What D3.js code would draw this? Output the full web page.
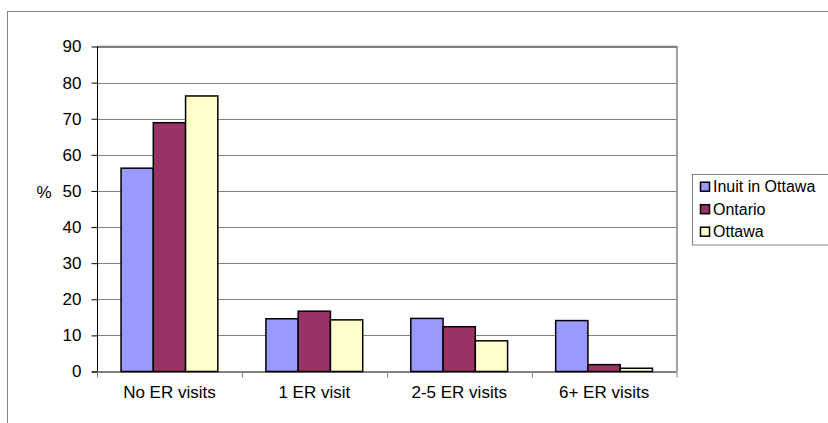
<!DOCTYPE html>
<html><head><meta charset="utf-8">
<script src="https://cdn.jsdelivr.net/npm/d3@7"></script>
<style>body{margin:0;background:#fff}svg{display:block;font-family:Arial,"Liberation Sans",sans-serif}</style>
</head><body><svg id="c" width="828" height="423"></svg>
<script>
const categories = ["No ER visits", "1 ER visit", "2-5 ER visits", "6+ ER visits"];
const seriesNames = ["Inuit in Ottawa", "Ontario", "Ottawa"];
const inuitValues = [56.3, 14.6, 14.7, 14.1];
const ontarioValues = [68.9, 16.7, 12.4, 1.9];
const ottawaValues = [76.3, 14.3, 8.5, 0.9];
const yTicks = [0, 10, 20, 30, 40, 50, 60, 70, 80, 90];
const colors = ["#9999FF", "#993366", "#FFFFCC"];
const seriesValues = [inuitValues, ontarioValues, ottawaValues];

const svg = d3.select("#c");
const L = 97, R = 676.5, T = 46.5, B = 371.5;

// outer chart border
svg.append("rect").attr("x", 7.5).attr("y", 11.5).attr("width", 900).attr("height", 500)
  .attr("fill", "none").attr("stroke", "#808080").attr("stroke-width", 1);

const x = d3.scaleBand().domain(categories).range([L, R]).paddingInner(0).paddingOuter(0);
const inner = d3.scaleBand().domain(seriesNames).range([0, x.bandwidth()]).paddingInner(0).paddingOuter(0.745);
const y = d3.scaleLinear().domain([0, 90]).range([B, T]);

// gridlines
svg.append("g").selectAll("line").data(yTicks.filter(d => d > 0)).join("line")
  .attr("x1", L).attr("x2", R).attr("y1", d => Math.round(y(d)) + 0.5).attr("y2", d => Math.round(y(d)) + 0.5)
  .attr("stroke", "#808080").attr("stroke-width", 1);
// plot border right
svg.append("line").attr("x1", R + 0.5).attr("x2", R + 0.5).attr("y1", T).attr("y2", B)
  .attr("stroke", "#808080").attr("stroke-width", 1.5);
svg.append("line").attr("x1", L).attr("x2", R + 1).attr("y1", T).attr("y2", T)
  .attr("stroke", "#808080").attr("stroke-width", 1.5);

// bars
const groups = svg.append("g").selectAll("g").data(seriesNames).join("g")
  .attr("fill", (d, i) => colors[i]);
groups.selectAll("rect").data((s, i) => seriesValues[i].map((v, j) => ({ s, v, c: categories[j] }))).join("rect")
  .attr("x", d => x(d.c) + inner(d.s))
  .attr("width", inner.bandwidth())
  .attr("y", d => y(d.v))
  .attr("height", d => B - y(d.v))
  .attr("stroke", "#000").attr("stroke-width", 1.5);

// y axis
const yAxis = d3.axisLeft(y).tickValues(yTicks).tickSize(6).tickPadding(10).tickFormat(d3.format("d"));
const ya = svg.append("g").attr("transform", `translate(${L + 0.5},0)`).call(yAxis);
ya.select(".domain").attr("stroke", "#000").attr("d", `M0,${T}V${B}`);
ya.selectAll(".tick line").attr("stroke", "#000");
ya.selectAll(".tick text").attr("font-size", 17).attr("fill", "#000").attr("font-family", "Arial, 'Liberation Sans', sans-serif");

// x axis
const xAxis = d3.axisBottom(x).tickSize(0).tickPadding(14);
const xa = svg.append("g").attr("transform", `translate(0,${B + 0.5})`).call(xAxis);
xa.select(".domain").attr("stroke", "#000").attr("d", `M${L - 5},0H${R}`);
xa.selectAll(".tick text").attr("font-size", 17).attr("fill", "#000").attr("font-family", "Arial, 'Liberation Sans', sans-serif");
// category separator ticks
svg.append("g").selectAll("line").data(categories).join("line")
  .attr("x1", d => Math.round(x(d)) + 0.5).attr("x2", d => Math.round(x(d)) + 0.5)
  .attr("y1", B).attr("y2", B + 6).attr("stroke", "#808080");
svg.append("line").attr("x1", R + 0.5).attr("x2", R + 0.5).attr("y1", B).attr("y2", B + 6).attr("stroke", "#808080");

// y label
svg.append("text").attr("x", 44).attr("y", 192).attr("text-anchor", "middle").attr("dominant-baseline", "central")
  .attr("font-size", 17).text("%");

// legend
const lg = svg.append("g");
lg.append("rect").attr("x", 692.5).attr("y", 174.5).attr("width", 200).attr("height", 70.5)
  .attr("fill", "#fff").attr("stroke", "#808080");
const items = lg.selectAll("g").data(seriesNames).join("g")
  .attr("transform", (d, i) => `translate(700,${186.7 + i * 22.5})`);
items.append("rect").attr("x", 0.5).attr("y", -4.5).attr("width", 9).attr("height", 9)
  .attr("fill", (d, i) => colors[i]).attr("stroke", "#000").attr("stroke-width", 1.5);
items.append("text").attr("x", 13).attr("y", 0).attr("dominant-baseline", "central")
  .attr("font-size", 16).text(d => d);
</script></body></html>
